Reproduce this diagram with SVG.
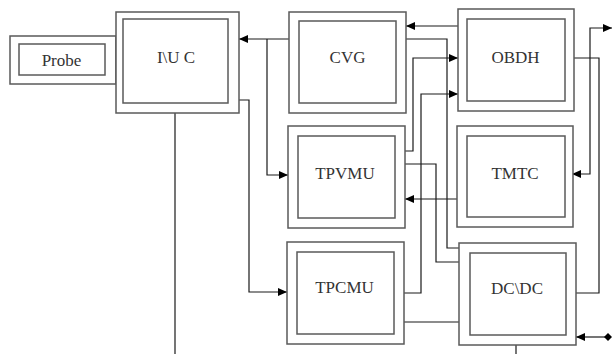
<svg xmlns="http://www.w3.org/2000/svg" width="612" height="354" viewBox="0 0 612 354">
<style>
.box{fill:#fff;stroke:#5a5a5a;stroke-width:1.5}
.lbl{font-family:'Liberation Serif','DejaVu Serif',serif;font-size:17px;fill:#333;text-anchor:middle}
.c{fill:none;stroke:#1a1a1a;stroke-width:1.2}
</style>
<defs>
<marker id="arr" markerUnits="userSpaceOnUse" markerWidth="10" markerHeight="8" refX="9" refY="4" orient="auto-start-reverse">
<path d="M0,0 L9,4 L0,8 Z" fill="#000"/>
</marker>
<marker id="dia" markerUnits="userSpaceOnUse" markerWidth="8" markerHeight="8" refX="4" refY="4" orient="auto">
<path d="M0,4 L4,0 L8,4 L4,8 Z" fill="#000"/>
</marker>
</defs>
<rect width="612" height="354" fill="#fff"/>
<g id="connectors">
<path class="c" d="M175,113 V354"/>
<path class="c" d="M516,345 V354"/>
<path class="c" d="M458,26 H406" marker-end="url(#arr)"/>
<path class="c" d="M289,39 H239" marker-end="url(#arr)"/>
<path class="c" d="M267,39 V175 H288" marker-end="url(#arr)"/>
<path class="c" d="M239,100 H249 V292 H287" marker-end="url(#arr)"/>
<path class="c" d="M406,39 H447 V248 H459"/>
<path class="c" d="M405,151 H413 V58 H458" marker-end="url(#arr)"/>
<path class="c" d="M404,293 H421 V94 H458" marker-end="url(#arr)"/>
<path class="c" d="M405,164 H436 V262 H459"/>
<path class="c" d="M457,199 H405" marker-end="url(#arr)"/>
<path class="c" d="M404,322 H459"/>
<path class="c" d="M574,58 H599 V293 H576"/>
<path class="c" d="M572,174 H590 V28 H612" marker-start="url(#arr)" marker-end="url(#arr)"/>
<path class="c" d="M608,337 H576" marker-start="url(#dia)" marker-end="url(#arr)"/>
</g>
<g id="probe">
<rect class="box" x="10" y="36" width="106" height="48"/>
<rect class="box" x="19" y="44" width="86" height="31"/>
<text class="lbl" x="61.5" y="66">Probe</text>
</g>
<g id="iuc">
<rect class="box" x="116" y="12" width="123" height="101"/>
<rect class="box" x="123" y="19" width="105" height="84"/>
<text class="lbl" x="176" y="63">I\U C</text>
</g>
<g id="cvg">
<rect class="box" x="289" y="12" width="117" height="101"/>
<rect class="box" x="299" y="21" width="97" height="82"/>
<text class="lbl" x="347.5" y="63">CVG</text>
</g>
<g id="tpvmu">
<rect class="box" x="288" y="126" width="117" height="102"/>
<rect class="box" x="298" y="136" width="97" height="82"/>
<text class="lbl" x="345" y="179">TPVMU</text>
</g>
<g id="tpcmu">
<rect class="box" x="287" y="242" width="117" height="102"/>
<rect class="box" x="297" y="252" width="97" height="82"/>
<text class="lbl" x="344.5" y="293">TPCMU</text>
</g>
<g id="obdh">
<rect class="box" x="458" y="9" width="116" height="102"/>
<rect class="box" x="467" y="19" width="98" height="82"/>
<text class="lbl" x="515.5" y="63">OBDH</text>
</g>
<g id="tmtc">
<rect class="box" x="457" y="126" width="116" height="101"/>
<rect class="box" x="467" y="136" width="98" height="81"/>
<text class="lbl" x="515" y="179">TMTC</text>
</g>
<g id="dcdc">
<rect class="box" x="459" y="243" width="117" height="102"/>
<rect class="box" x="470" y="253" width="96" height="82"/>
<text class="lbl" x="517" y="294">DC\DC</text>
</g>
</svg>
